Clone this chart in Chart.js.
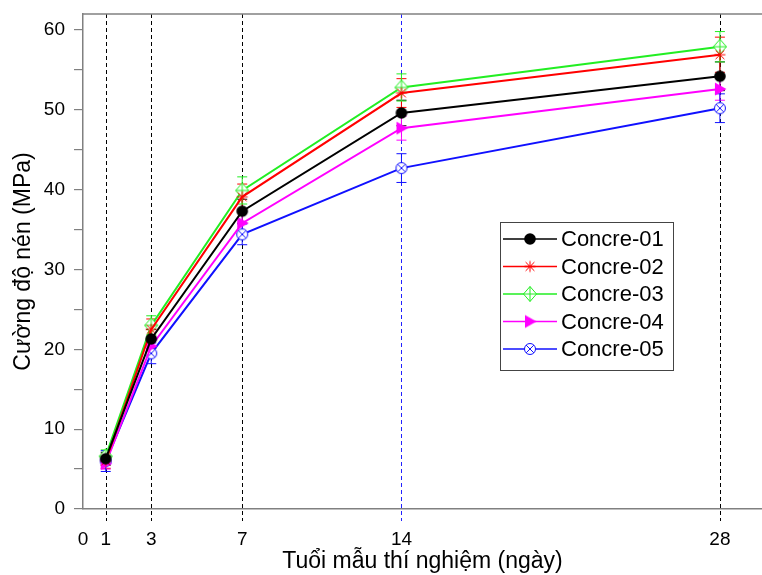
<!DOCTYPE html>
<html><head><meta charset="utf-8">
<script src="https://cdn.jsdelivr.net/npm/chart.js@4"></script>
<style>html,body{margin:0;padding:0;background:#fff;overflow:hidden;width:762px;height:575px}canvas{display:block}</style>
</head><body><canvas id="c" width="762" height="575"></canvas>
<script>
// ---- data ----
const days = [1, 3, 7, 14, 28];
const xTickValues = [0, 1, 3, 7, 14, 28];
const yTickValues = [0, 5, 10, 15, 20, 25, 30, 35, 40, 45, 50, 55, 60];
const seriesNames = ['Concre-01', 'Concre-02', 'Concre-03', 'Concre-04', 'Concre-05'];
const concre01 = [6.3, 21.3, 37.3, 49.6, 54.2];
const concre02 = [6.0, 22.5, 39.1, 52.1, 56.9];
const concre03 = [6.6, 23.0, 39.9, 52.8, 57.9];
const concre04 = [5.7, 20.4, 35.8, 47.7, 52.6];
const concre05 = [6.0, 19.5, 34.4, 42.7, 50.2];
const err01 = [0.8, 1.2, 1.5, 1.6, 1.8];
const err02 = [0.9, 1.3, 1.6, 1.8, 2.2];
const err03 = [0.8, 1.2, 1.7, 1.7, 1.9];
const err04 = [0.7, 1.1, 1.4, 1.5, 1.4];
const err05 = [1.3, 1.3, 1.3, 1.8, 1.8];
const guideDays = [1, 3, 7, 14, 28];
const xTitle = 'Tuổi mẫu thí nghiệm (ngày)';
const yTitle = 'Cường độ nén (MPa)';

// ---- styles ----
const colors = ['#000000', '#ff0000', '#22ee22', '#ff00ff', '#1010ff'];
const markerKinds = ['dot', 'star', 'diamondCross', 'triRight', 'circleX'];
const guideColors = ['#000000', '#000000', '#000000', '#2020ff', '#000000'];
const FONT = '"Liberation Sans", Arial, sans-serif';

function makeMarker(kind, color) {
  const s = 18, c = document.createElement('canvas');
  c.width = s; c.height = s;
  const g = c.getContext('2d'), m = s / 2;
  g.strokeStyle = color; g.fillStyle = color; g.lineWidth = 1;
  g.beginPath();
  if (kind === 'dot') {
    g.arc(m, m, 5.8, 0, Math.PI * 2); g.fill();
  } else if (kind === 'star') {
    const r = 5.5;
    g.moveTo(m, m - r); g.lineTo(m, m + r);
    g.moveTo(m - r, m); g.lineTo(m + r, m);
    g.moveTo(m - r * 0.8, m - r * 0.8); g.lineTo(m + r * 0.8, m + r * 0.8);
    g.moveTo(m - r * 0.8, m + r * 0.8); g.lineTo(m + r * 0.8, m - r * 0.8);
    g.stroke();
  } else if (kind === 'diamondCross') {
    const rx = 6.5, ry = 7.5;
    g.moveTo(m, m - ry); g.lineTo(m + rx, m); g.lineTo(m, m + ry); g.lineTo(m - rx, m); g.closePath();
    g.fillStyle = '#ffffff'; g.fill(); g.stroke();
    g.beginPath();
    g.moveTo(m, m - ry); g.lineTo(m, m + ry);
    g.moveTo(m - rx, m); g.lineTo(m + rx, m);
    g.stroke();
  } else if (kind === 'triRight') {
    g.moveTo(m - 5, m - 6.5); g.lineTo(m + 6.5, m); g.lineTo(m - 5, m + 6.5); g.closePath(); g.fill();
  } else if (kind === 'circleX') {
    g.arc(m, m, 5.5, 0, Math.PI * 2);
    g.fillStyle = '#ffffff'; g.fill(); g.stroke();
    g.beginPath();
    const d = 3.9;
    g.moveTo(m - d, m - d); g.lineTo(m + d, m + d);
    g.moveTo(m - d, m + d); g.lineTo(m + d, m - d);
    g.stroke();
  }
  return c;
}

const seriesValues = [concre01, concre02, concre03, concre04, concre05];
const seriesErrors = [err01, err02, err03, err04, err05];
const markers = markerKinds.map((k, i) => makeMarker(k, colors[i]));

const datasets = seriesNames.map((name, i) => ({
  label: name,
  data: days.map((d, j) => ({ x: d, y: seriesValues[i][j] })),
  borderColor: colors[i],
  backgroundColor: colors[i],
  borderWidth: 2,
  pointStyle: markers[i],
  pointRadius: 6,
  pointHoverRadius: 6,
  tension: 0,
  clip: false,
  errors: seriesErrors[i]
}));

function noPad(s) { s.paddingLeft = 0; s.paddingRight = 0; s.paddingTop = 0; s.paddingBottom = 0; }

const decorPlugin = {
  id: 'decor',
  beforeDatasetsDraw(chart) {
    const { ctx, chartArea: a, scales: { x, y } } = chart;
    ctx.save();
    // dashed guide lines
    ctx.lineWidth = 1;
    ctx.setLineDash([4, 3]);
    guideDays.forEach((d, i) => {
      const px = Math.round(x.getPixelForValue(d)) + 0.5;
      ctx.strokeStyle = guideColors[i];
      ctx.beginPath(); ctx.moveTo(px, a.top); ctx.lineTo(px, a.bottom + 12); ctx.stroke();
    });
    ctx.setLineDash([]);
    // error bars
    chart.data.datasets.forEach(ds => {
      ctx.strokeStyle = ds.borderColor;
      ctx.lineWidth = 1;
      ds.data.forEach((p, j) => {
        const e = ds.errors[j];
        const px = x.getPixelForValue(p.x);
        const yt = y.getPixelForValue(p.y + e), yb = y.getPixelForValue(p.y - e);
        ctx.beginPath();
        ctx.moveTo(px, yt); ctx.lineTo(px, yb);
        ctx.moveTo(px - 5, yt); ctx.lineTo(px + 5, yt);
        ctx.moveTo(px - 5, yb); ctx.lineTo(px + 5, yb);
        ctx.stroke();
      });
    });
    ctx.restore();
  },
  afterDraw(chart) {
    const { ctx, chartArea: a } = chart;
    ctx.save();
    // top frame (the right side is cropped off in the reference)
    ctx.strokeStyle = '#808080'; ctx.lineWidth = 1.5;
    ctx.beginPath(); ctx.moveTo(a.left, a.top); ctx.lineTo(chart.width, a.top); ctx.stroke();
    // legend
    const bx = 500.5, by = 222.5, bw = 173, bh = 148;
    ctx.fillStyle = '#ffffff'; ctx.fillRect(bx, by, bw, bh);
    ctx.strokeStyle = '#444444'; ctx.lineWidth = 1; ctx.strokeRect(bx, by, bw, bh);
    ctx.font = '22px ' + FONT; ctx.textBaseline = 'middle'; ctx.textAlign = 'left';
    chart.data.datasets.forEach((ds, i) => {
      const ry = 239 + i * 27.5;
      ctx.strokeStyle = ds.borderColor; ctx.lineWidth = 1.5;
      ctx.beginPath(); ctx.moveTo(503, ry); ctx.lineTo(557, ry); ctx.stroke();
      const mk = ds.pointStyle;
      ctx.drawImage(mk, 530 - mk.width / 2, ry - mk.height / 2);
      ctx.fillStyle = '#000000';
      ctx.fillText(ds.label, 561, ry + 1);
    });
    ctx.restore();
  }
};

new Chart(document.getElementById('c'), {
  type: 'line',
  data: { datasets },
  options: {
    responsive: false,
    animation: false,
    devicePixelRatio: 1,
    layout: { autoPadding: false, padding: { top: 14, right: 0, left: 0, bottom: 0 } },
    plugins: { legend: { display: false }, tooltip: { enabled: false } },
    scales: {
      x: {
        type: 'linear',
        min: 0, max: 29.85,
        afterBuildTicks: s => { s.ticks = xTickValues.map(v => ({ value: v })); },
        afterFit: s => { s.height = 66; noPad(s); },
        grid: { display: false },
        border: { display: true, color: '#808080', width: 1.5 },
        ticks: {
          autoSkip: false, maxRotation: 0, padding: 11,
          color: '#000000', font: { family: FONT, size: 19 },
          callback: v => String(v)
        },
        title: {
          display: true, text: xTitle, color: '#000000',
          font: { family: FONT, size: 23 }, padding: { top: 0, bottom: 0 }
        }
      },
      y: {
        type: 'linear',
        min: 0, max: 62,
        afterBuildTicks: s => { s.ticks = yTickValues.map(v => ({ value: v })); },
        afterFit: s => { s.width = 83; noPad(s); },
        grid: { display: true, drawOnChartArea: false, drawTicks: true, tickLength: 9, color: '#808080', lineWidth: 1.2 },
        border: { display: true, color: '#808080', width: 1.5 },
        ticks: {
          autoSkip: false, padding: 9,
          color: '#000000', font: { family: FONT, size: 19 },
          callback: v => (v % 10 === 0 ? String(v) : '')
        },
        title: {
          display: true, text: yTitle, color: '#000000',
          font: { family: FONT, size: 23 }, padding: { top: 10, bottom: 0 }
        }
      }
    }
  },
  plugins: [decorPlugin]
});
</script>
</body></html>
